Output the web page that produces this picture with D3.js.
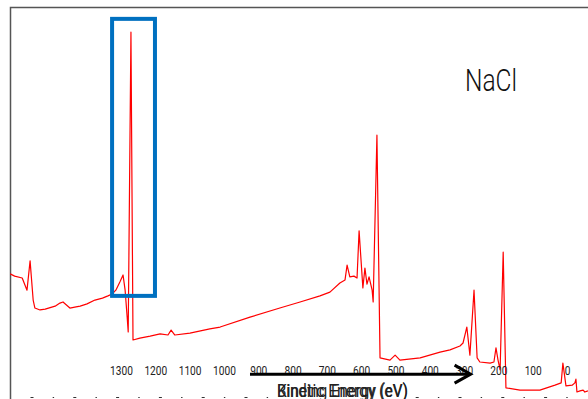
<!DOCTYPE html>
<html>
<head>
<meta charset="utf-8">
<script src="https://cdn.jsdelivr.net/npm/d3@7/dist/d3.min.js"></script>
<style>
  html, body { margin: 0; padding: 0; background: #fff; }
  svg { display: block; }
</style>
</head>
<body>
<svg id="chart" width="588" height="399"></svg>
<script>
// ---- data (binding energy in eV, intensity in arbitrary units) ----
const bindingEnergy = [1623, 1610, 1588, 1574, 1565, 1556, 1551, 1536, 1521, 1492, 1478, 1469, 1449, 1431, 1419, 1399, 1376, 1354, 1338, 1326, 1315, 1303, 1294, 1288, 1282, 1279, 1271, 1265, 1245, 1215, 1186, 1163, 1154, 1143, 1099, 1041, 1011, 924, 837, 778, 720, 691, 662, 647, 641, 633, 621, 612, 606, 595, 589, 583, 577, 568, 565, 554, 545, 516, 501, 487, 428, 370, 341, 312, 303, 292, 283, 271, 262, 254, 224, 213, 207, 201, 195, 186, 178, 137, 79, 35, 17, 12, 3, -15, -23, -26, -29, -38, -47, -52, -61];
const intensity = [33.2, 32.6, 32.1, 28.9, 36.6, 26.3, 24.2, 23.7, 23.9, 24.7, 25.5, 25.8, 24.2, 24.5, 24.7, 25.3, 26.3, 26.8, 27.4, 27.9, 28.9, 31.1, 32.9, 28.9, 21.8, 17.9, 96.8, 15.8, 16.3, 16.8, 17.4, 17.1, 18.4, 17.1, 17.6, 18.7, 19.2, 21.8, 24.2, 25.8, 27.4, 28.4, 30.8, 31.6, 35.5, 32.4, 32.6, 32.1, 44.5, 29.5, 34.7, 30.5, 32.4, 28.9, 25.8, 69.7, 11.1, 10.5, 11.8, 10.5, 11.1, 12.6, 13.2, 14.2, 15.0, 19.2, 11.8, 28.9, 11.1, 10.0, 9.7, 10.0, 13.7, 10.5, 7.9, 38.9, 3.2, 2.6, 2.6, 3.9, 4.5, 9.7, 3.7, 3.9, 4.5, 5.5, 2.1, 2.4, 2.6, 2.1, 2.4];
const tickValues = [1300, 1200, 1100, 1000, 900, 800, 700, 600, 500, 400, 300, 200, 100, 0];
const minorTickIndex = d3.range(0, 26);
const title = "NaCl";
const axisLabels = ["Binding Energy (eV)", "Kinetic Energy (eV)"];
const highlight = { from: 1326, to: 1201, top: 100.3, bottom: 27.4 };
const arrow = { from: 924, to: 281, level: 6.8 };

// ---- scales ----
const W = 588, H = 399;
const x = d3.scaleLinear().domain([1300, 0]).range([121, 567]);
const y = d3.scaleLinear().domain([0, 100]).range([400, 20]);
const minorX = d3.scaleLinear().domain([0, 25]).range([567, 32]);

const svg = d3.select("#chart");

svg.append("defs").append("clipPath").attr("id", "plotclip")
  .append("rect").attr("x", 10).attr("y", 7).attr("width", W - 10).attr("height", H - 7);

// frame (left + top)
svg.append("path")
  .attr("d", `M10.5,${H} L10.5,7.5 L${W},7.5`)
  .attr("fill", "none").attr("stroke", "#555").attr("stroke-width", 1.5);

// spectrum
const pts = bindingEnergy.map((b, i) => [b, intensity[i]]);
svg.append("path")
  .datum(pts)
  .attr("clip-path", "url(#plotclip)")
  .attr("fill", "none")
  .attr("stroke", "#ff0000")
  .attr("stroke-width", 1.2)
  .attr("stroke-linejoin", "round")
  .attr("d", d3.line().x(d => x(d[0])).y(d => y(d[1])));

// highlight box
svg.append("rect")
  .attr("x", x(highlight.from)).attr("y", y(highlight.top))
  .attr("width", x(highlight.to) - x(highlight.from))
  .attr("height", y(highlight.bottom) - y(highlight.top))
  .attr("fill", "none").attr("stroke", "#0070c0").attr("stroke-width", 4);

// tick labels (no axis line)
const axis = d3.axisBottom(x).tickValues(tickValues).tickSize(0).tickPadding(0).tickFormat(d3.format("d"));
const gAxis = svg.append("g").attr("transform", "translate(0,366)").call(axis);
gAxis.select(".domain").remove();
gAxis.selectAll("text")
  .attr("font-family", "Roboto, 'DejaVu Sans', sans-serif")
  .attr("font-size", 12.5)
  .attr("font-weight", 400)
  .attr("fill", "#222")
  .attr("textLength", d => String(d).length * 5.7)
  .attr("lengthAdjust", "spacingAndGlyphs");

// arrow
const ay = y(arrow.level);
svg.append("line")
  .attr("x1", x(arrow.from)).attr("x2", x(arrow.to) - 2)
  .attr("y1", ay).attr("y2", ay)
  .attr("stroke", "#000").attr("stroke-width", 3);
svg.append("path")
  .attr("d", `M${x(arrow.to) - 16},${ay - 9} L${x(arrow.to)},${ay} L${x(arrow.to) - 16},${ay + 9}`)
  .attr("fill", "none").attr("stroke", "#000").attr("stroke-width", 3)
  .attr("stroke-linejoin", "miter");

// small bottom tick dashes
svg.append("g").selectAll("line")
  .data(minorTickIndex.filter(i => minorX(i) < 272 || minorX(i) > 412))
  .join("line")
  .attr("x1", i => minorX(i) - (i % 2 ? 1.5 : 0.7))
  .attr("x2", i => minorX(i) + (i % 2 ? 1.5 : 0.7))
  .attr("y1", 397.5).attr("y2", 397.5)
  .attr("stroke", "#333").attr("stroke-width", 1);

// overlapping axis titles
svg.append("g").selectAll("text")
  .data(axisLabels)
  .join("text")
  .attr("x", 277).attr("y", 397)
  .attr("font-family", "Roboto, 'DejaVu Sans', sans-serif")
  .attr("font-size", 18)
  .attr("font-weight", 400)
  .attr("fill", "#222")
  .attr("textLength", 131)
  .attr("lengthAdjust", "spacingAndGlyphs")
  .text(d => d);

// title
svg.append("text")
  .attr("x", 465).attr("y", 91)
  .attr("font-family", "Roboto, 'DejaVu Sans', sans-serif")
  .attr("font-size", 32)
  .attr("font-weight", 300)
  .attr("fill", "#111")
  .attr("textLength", 52)
  .attr("lengthAdjust", "spacingAndGlyphs")
  .text(title);
</script>
</body>
</html>
